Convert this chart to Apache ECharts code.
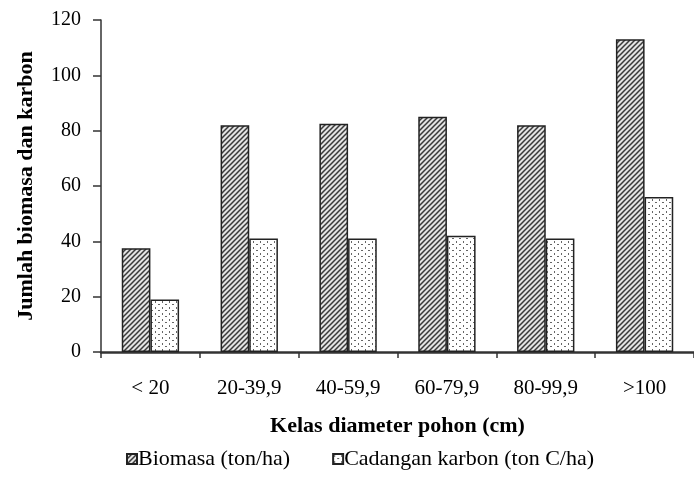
<!DOCTYPE html>
<html><head><meta charset="utf-8">
<script src="https://cdn.jsdelivr.net/npm/echarts@6/dist/echarts.min.js"></script>
<style>html,body{margin:0;padding:0;background:#fff;overflow:hidden}#c{width:694px;height:490px}</style>
</head><body><div id="c"></div>
<script>
const categories = ['< 20', '20-39,9', '40-59,9', '60-79,9', '80-99,9', '>100'];
const biomasa = [37.5, 82, 82.5, 85, 82, 113];
const karbon = [19, 41, 41, 42, 41, 56];
const yTicks = [0, 20, 40, 60, 80, 100, 120];

function hatch() {
  const c = document.createElement('canvas'); c.width = 5; c.height = 5;
  const g = c.getContext('2d');
  g.fillStyle = '#e4e4e4'; g.fillRect(0, 0, 5, 5);
  g.strokeStyle = '#3a3a3a'; g.lineWidth = 1.5;
  g.beginPath();
  g.moveTo(-1, 6); g.lineTo(6, -1);
  g.moveTo(-3.5, 3.5); g.lineTo(3.5, -3.5);
  g.moveTo(1.5, 8.5); g.lineTo(8.5, 1.5);
  g.stroke();
  return c;
}
function dots() {
  const c = document.createElement('canvas'); c.width = 7; c.height = 6;
  const g = c.getContext('2d');
  g.fillStyle = '#fff'; g.fillRect(0, 0, 7, 6);
  g.fillStyle = '#666';
  g.fillRect(1, 1, 1, 2);
  g.fillRect(4, 4, 2, 1);
  return c;
}
const font = '"Liberation Serif", "Times New Roman", serif';
const chart = echarts.init(document.getElementById('c'));
chart.setOption({
  animation: false,
  grid: { left: 101, right: -9, top: 20, bottom: 138 },
  legend: {
    top: 443, left: 121, itemGap: 42, itemWidth: 10, itemHeight: 10, icon: 'rect',
    textStyle: { fontFamily: font, fontSize: 22, color: '#000', padding: [0, 0, 0, -4] },
    data: ['Biomasa (ton/ha)', 'Cadangan karbon (ton C/ha)']
  },
  xAxis: {
    type: 'category', data: categories,
    name: 'Kelas diameter pohon (cm)', nameLocation: 'middle', nameGap: 63,
    nameTextStyle: { fontFamily: font, fontSize: 22, fontWeight: 'bold', color: '#000' },
    axisLine: { lineStyle: { color: '#333', width: 2.5 } },
    axisTick: { show: true, length: 6, lineStyle: { color: '#333', width: 1.5 } },
    axisLabel: { fontFamily: font, fontSize: 21, color: '#000', margin: 26 }
  },
  yAxis: {
    type: 'value', min: 0, max: 120, interval: 20,
    name: 'Jumlah biomasa dan karbon', nameLocation: 'middle', nameGap: 64,
    nameTextStyle: { fontFamily: font, fontSize: 22, fontWeight: 'bold', color: '#000' },
    splitLine: { show: false },
    axisLine: { show: true, lineStyle: { color: '#333', width: 1.5 } },
    axisTick: { show: true, length: 8, lineStyle: { color: '#333', width: 1.5 } },
    axisLabel: { fontFamily: font, fontSize: 20, color: '#000', margin: 20,
      formatter: v => yTicks.includes(v) ? String(v) : '' }
  },
  series: [
    { name: 'Biomasa (ton/ha)', type: 'bar', data: biomasa, barGap: '0%', barCategoryGap: '42%',
      itemStyle: { color: { image: hatch(), repeat: 'repeat' }, borderColor: '#222', borderWidth: 1.5 } },
    { name: 'Cadangan karbon (ton C/ha)', type: 'bar', data: karbon,
      itemStyle: { color: { image: dots(), repeat: 'repeat' }, borderColor: '#222', borderWidth: 1.5 } }
  ]
});
</script></body></html>
